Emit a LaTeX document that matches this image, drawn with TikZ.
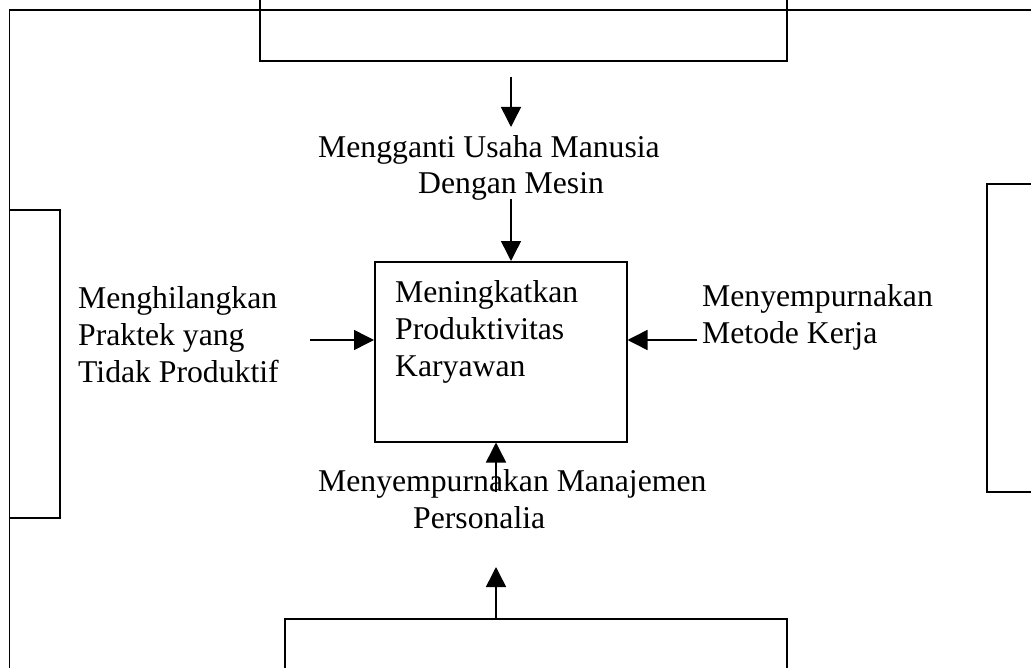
\documentclass[tikz,border=0pt]{standalone}
\usepackage{fontspec}
\setmainfont{Liberation Serif}
\usetikzlibrary{arrows.meta}
\begin{document}
\begin{tikzpicture}[x=1bp,y=-1bp,
  frame/.style={draw=black,line width=1.5bp},
  arr/.style={draw=black,line width=1.5bp,-{Triangle[length=20bp,width=20bp]}},
  lbl/.style={inner sep=0pt,anchor=base west,align=left,font=\fontsize{31.7bp}{36.8bp}\selectfont}]
\useasboundingbox (0,0) rectangle (1031,668);
\begin{scope}
\clip (0,0) rectangle (1031,668);
% outer frame and side boxes
\draw[frame] (9.7,10) rectangle (1045,690);
\draw[frame] (260,-10) rectangle (787,61);
\draw[frame] (987,184) rectangle (1045,492);
\draw[frame] (9.7,210) rectangle (60,518);
\draw[frame] (285,619) rectangle (787,690);
\end{scope}
% central box
\node[frame,inner sep=0pt,minimum width=252bp,minimum height=180bp,anchor=north west] (goal) at (374,261) {};
% labels (anchor = baseline of last line)
\node[lbl] (goaltxt) at (395,376) {Meningkatkan\\Produktivitas\\Karyawan};
\node[lbl] (top) at (318,194) {Mengganti Usaha Manusia\\\hspace*{100bp}Dengan Mesin};
\node[lbl] (left) at (78,382) {Menghilangkan\\Praktek yang\\Tidak Produktif};
\node[lbl] (right) at (702,343.5) {Menyempurnakan\\Metode Kerja};
\node[lbl] (bottom) at (318,528.5) {Menyempurnakan Manajemen\\\hspace*{95bp}Personalia};
% arrow endpoints
\coordinate (t1s) at (511,77);
\coordinate (t1e) at (511,127);
\coordinate (t2s) at (511,199);
\coordinate (ls) at (310,340);
\coordinate (rs) at (697,340);
\coordinate (b1s) at (496,492);
\coordinate (b2s) at (496,619);
\coordinate (b2e) at (496,567);
% arrows
\draw[arr] (t1s) -- (t1e);
\draw[arr] (t2s) -- (t2s |- goal.north);
\draw[arr] (ls) -- (ls -| goal.west);
\draw[arr] (rs) -- (rs -| goal.east);
\draw[arr] (b1s) -- (b1s |- goal.south);
\draw[arr] (b2s) -- (b2e);
\end{tikzpicture}
\end{document}
